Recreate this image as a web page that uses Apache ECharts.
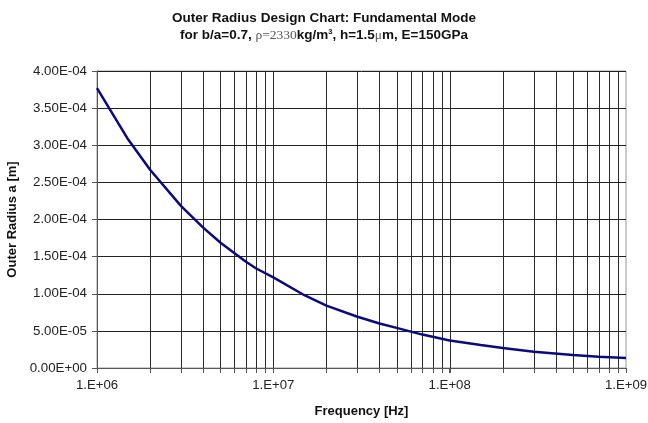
<!DOCTYPE html>
<html><head><meta charset="utf-8">
<script src="https://cdn.jsdelivr.net/npm/echarts@6/dist/echarts.min.js"></script>
<style>html,body{margin:0;padding:0;background:#fff}#c{width:648px;height:423px}</style>
</head><body><div id="c"></div>
<script>
// Data
const frequencies = [1e6, 1.5e6, 2e6, 3e6, 4e6, 5e6, 6e6, 7e6, 8e6, 1e7, 1.5e7, 2e7, 3e7, 4e7, 5e7, 7e7, 1e8, 1.5e8, 2e8, 3e8, 5e8, 7e8, 1e9];
const radii = [3.77e-4, 3.08e-4, 2.67e-4, 2.18e-4, 1.89e-4, 1.69e-4, 1.55e-4, 1.43e-4, 1.34e-4, 1.22e-4, 9.8e-5, 8.4e-5, 6.9e-5, 6.0e-5, 5.4e-5, 4.5e-5, 3.7e-5, 3.1e-5, 2.7e-5, 2.2e-5, 1.75e-5, 1.5e-5, 1.35e-5];
const decadeLabels = ['1.E+06', '1.E+07', '1.E+08', '1.E+09'];

// Minor log grid positions (2..9 within each decade)
const minorFreqs = [];
[1e6, 1e7, 1e8].forEach(d => { for (let k = 2; k <= 9; k++) minorFreqs.push(k * d); });
const majorFreqs = [1e7, 1e8];

function fmtExp(v) {
  if (v === 0) return '0.00E+00';
  let s = v.toExponential(2).toUpperCase();
  return s.replace(/E([+-])(\d)$/, 'E$10$2');
}

const chart = echarts.init(document.getElementById('c'), null, {renderer: 'canvas'});
const FONT = 'Liberation Sans, Arial, sans-serif';
chart.setOption({
  animation: false,
  backgroundColor: '#fff',
  title: {
    left: 'center', top: 6, itemGap: 3,
    text: 'Outer Radius Design Chart: Fundamental Mode',
    subtext: '{b|for b/a=0.7, }{s|ρ=2330}{b|kg/m}{sup|3}{b|, h=1.5}{s|μ}{b|m, E=150GPa}',
    textStyle: {fontFamily: FONT, fontSize: 13.5, fontWeight: 'bold', color: '#111'},
    subtextStyle: {
      fontFamily: FONT, fontSize: 13.5, color: '#111',
      rich: {
        b: {fontFamily: FONT, fontSize: 13.5, fontWeight: 'bold', color: '#111'},
        s: {fontFamily: 'Liberation Serif, Times New Roman, serif', fontSize: 13.5, color: '#555'},
        sup: {fontFamily: FONT, fontSize: 7.5, fontWeight: 'bold', color: '#111', verticalAlign: 'top', padding: [0, 0, 6, 0]}
      }
    }
  },
  grid: {left: 97, right: 22, top: 71, bottom: 55, show: true, borderColor: '#9a9a9a', borderWidth: 1,
    outerBoundsMode: 'none', containLabel: false},
  xAxis: {
    type: 'log', logBase: 10, min: 1e6, max: 1e9,
    name: 'Frequency [Hz]', nameLocation: 'middle', nameGap: 37,
    nameTextStyle: {fontFamily: FONT, fontSize: 13, fontWeight: 'bold', color: '#111'},
    axisLine: {show: true, lineStyle: {color: '#555', width: 1}},
    axisTick: {show: true, length: 5, inside: false, lineStyle: {color: '#555'}},
    axisLabel: {fontFamily: FONT, fontSize: 13.2, color: '#222', margin: 11,
      formatter: v => decadeLabels[Math.round(Math.log10(v)) - 6] || ''},
    splitLine: {show: false}
  },
  yAxis: {
    type: 'value', min: 0, max: 4e-4, interval: 5e-5,
    name: 'Outer Radius a [m]', nameLocation: 'middle', nameGap: 74,
    nameTextStyle: {fontFamily: FONT, fontSize: 13, fontWeight: 'bold', color: '#111'},
    axisLine: {show: true, lineStyle: {color: '#555', width: 1}},
    axisTick: {show: true, length: 5, lineStyle: {color: '#555'}},
    axisLabel: {fontFamily: FONT, fontSize: 13.3, color: '#222', margin: 10, formatter: fmtExp},
    splitLine: {show: true, lineStyle: {color: '#222', width: 1}}
  },
  series: [
    {
      type: 'custom', silent: true, clip: false, z: 1,
      data: minorFreqs.concat(majorFreqs).map(f => [f]),
      renderItem: function (params, api) {
        const f = api.value(0);
        const b = api.coord([f, 0]);
        const t = api.coord([f, 4e-4]);
        const x = Math.round(b[0]) + 0.5;
        return {type: 'group', children: [
          {type: 'line', shape: {x1: x, y1: t[1], x2: x, y2: b[1]}, style: {stroke: '#2a2a2a', lineWidth: 1}},
          {type: 'line', shape: {x1: x, y1: b[1], x2: x, y2: b[1] + 5}, style: {stroke: '#555', lineWidth: 1}}
        ]};
      }
    },
    {
      type: 'line', z: 5,
      data: frequencies.map((f, i) => [f, radii[i]]),
      showSymbol: false, smooth: false,
      lineStyle: {color: '#0a0a80', width: 2.5}
    }
  ]
});
</script></body></html>
